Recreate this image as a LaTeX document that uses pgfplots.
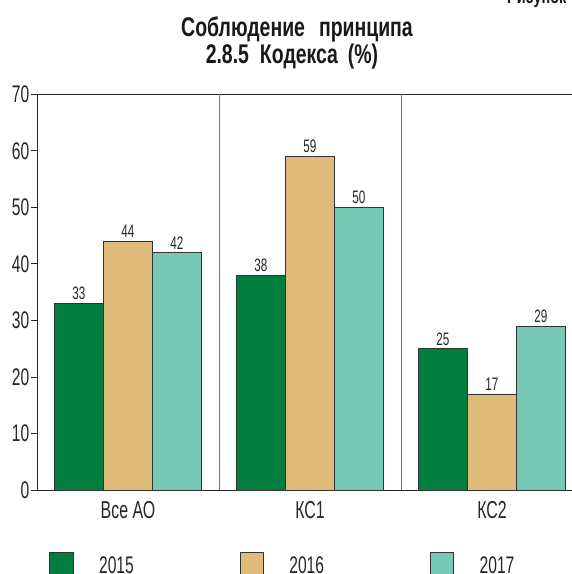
\documentclass[border=0pt]{standalone}
\usepackage{pgfplots}
\pgfplotsset{compat=1.18}
\usepackage{fontspec}
\setmainfont{Liberation Sans}[FakeStretch=0.65]
\newfontfamily\titlefont{Liberation Sans}[FakeStretch=0.72]
\definecolor{cgreen}{HTML}{007E3F}
\definecolor{ctan}{HTML}{DEBB78}
\definecolor{cteal}{HTML}{76C8B4}
\definecolor{cedge}{HTML}{333333}
\begin{document}
\begin{tikzpicture}[x=1pt,y=1pt]
\useasboundingbox (0,0) rectangle (572,574);
\fill[white] (0,0) rectangle (572,574);
\clip (0,0) rectangle (572,574);
\node[anchor=base,font=\titlefont\bfseries\fontsize{27}{27}\selectfont,text=black!90,inner sep=0pt] at (297,537.3) {Соблюдение\hspace{14pt}принципа};
\node[anchor=base,font=\titlefont\bfseries\fontsize{27}{27}\selectfont,text=black!90,inner sep=0pt] at (292,510.7) {2.8.5\hspace{11pt}Кодекса\hspace{10pt}(\%)};
\node[anchor=base west,font=\titlefont\bfseries\fontsize{20}{20}\selectfont,text=black!90,inner sep=0pt] at (507,570) {Рисунок};
\begin{axis}[
  at={(37pt,84pt)}, anchor=south west,
  scale only axis, width=546pt, height=395.6pt,
  xmin=-0.5, xmax=2.5, ymin=0, ymax=70,
  ybar=0pt, bar width=49pt,
  axis line style={draw=black!85, line width=0.9pt},
  xtick={0,1,2}, xticklabels={Все АО, КС1, КС2},
  xtick style={draw=none},
  ytick={0,10,...,70}, ytick pos=left,
  tick align=outside, major tick length=6pt,
  ytick style={draw=black!85, line width=0.9pt},
  extra x ticks={0.5,1.5}, extra x tick labels={},
  extra x tick style={grid=major, major grid style={draw=black!55, line width=0.9pt}, tick style={draw=none}},
  /pgf/number format/assume math mode=true,
  yticklabel style={font=\fontsize{24}{24}\selectfont, text=black!85, anchor=east, inner sep=0pt, xshift=-1.5pt},
  xticklabel style={font=\fontsize{24.5}{24.5}\selectfont, text=black!85, anchor=north, inner sep=0pt, yshift=-5pt},
  nodes near coords,
  every node near coord/.append style={font=\fontsize{18}{18}\selectfont, text=black!85, anchor=south, inner sep=0pt, yshift=3pt},
  legend columns=3,
  legend style={at={(0.02253,-0.1575)}, anchor=north west, draw=none, fill=none, inner sep=0pt, outer sep=0pt,
    font=\fontsize{24}{24}\selectfont, text=black!85,
    nodes={inner sep=0pt, text width=140.5pt, align=left},
    /tikz/every odd column/.append style={column sep=25.6pt}},
  legend image code/.code={\draw[#1] (0pt,-16pt) rectangle (23.4pt,13.6pt);},
]
\addplot[fill=cgreen, draw=cedge, line width=0.8pt] coordinates {(0,33) (1,38) (2,25)};
\addplot[fill=ctan, draw=cedge, line width=0.8pt] coordinates {(0,44) (1,59) (2,17)};
\addplot[fill=cteal, draw=cedge, line width=0.8pt] coordinates {(0,42) (1,50) (2,29)};
\legend{2015,2016,2017}
\end{axis}
\end{tikzpicture}
\end{document}
